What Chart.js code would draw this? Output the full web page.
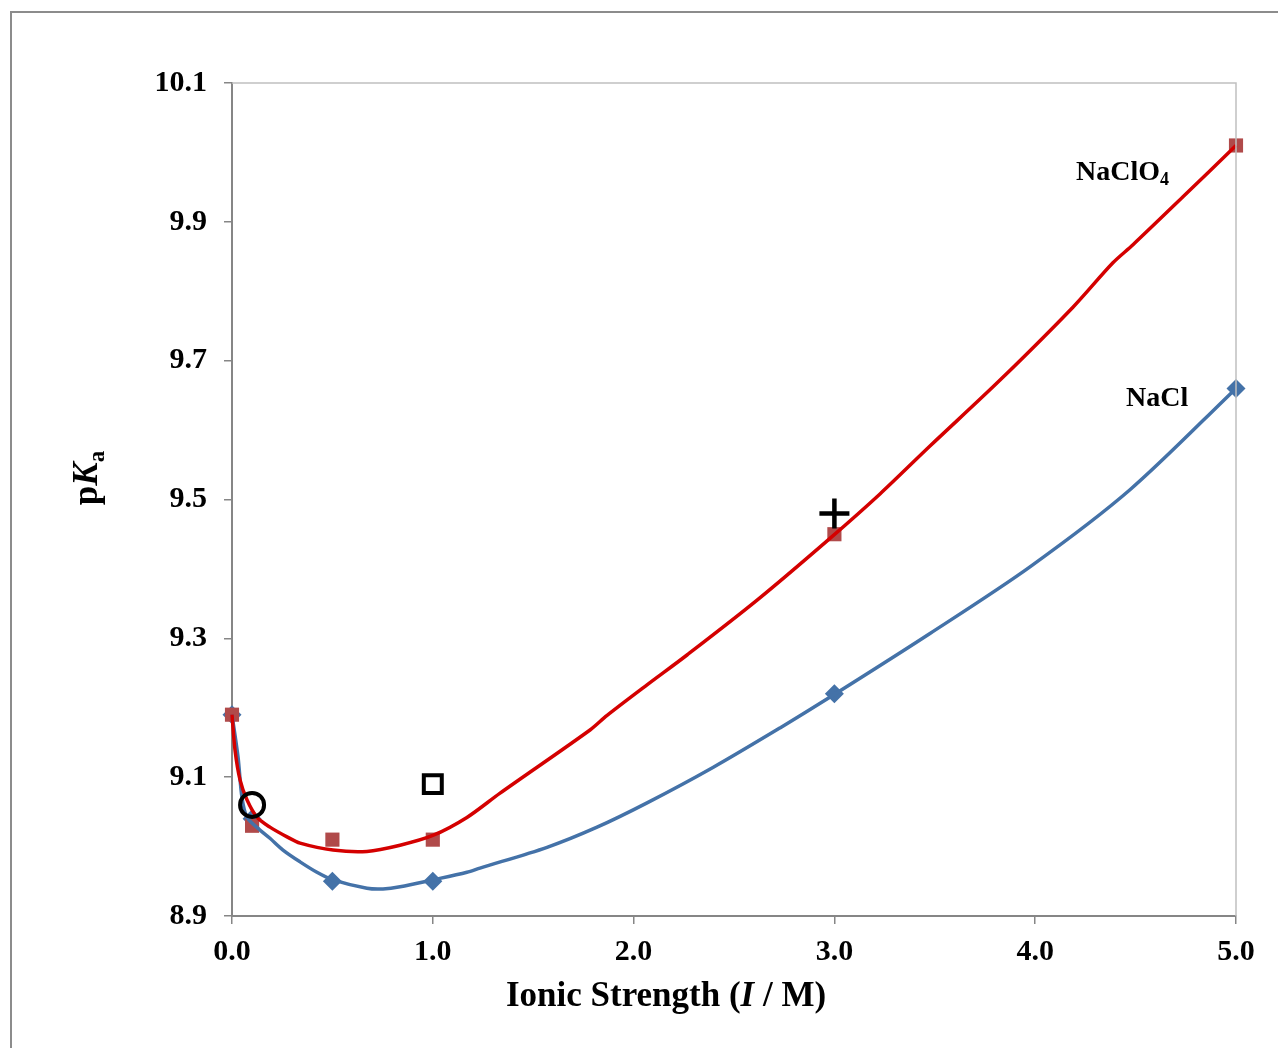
<!DOCTYPE html>
<html>
<head>
<meta charset="utf-8">
<script src="https://cdn.jsdelivr.net/npm/chart.js@4"></script>
<style>
  html, body { margin: 0; padding: 0; background: #fff; overflow: hidden; }
  #wrap { position: relative; width: 1278px; height: 1048px; }
</style>
</head>
<body>
<div id="wrap"><canvas id="pkaChart"></canvas></div>
<script>
// measured points
const ionicStrength = [0, 0.1, 0.5, 1.0, 3.0, 5.0];
const pkaNaCl = [9.19, 9.04, 8.95, 8.95, 9.22, 9.66];
const pkaNaClO4 = [9.19, 9.03, 9.01, 9.01, 9.45, 10.01];

// literature points (open circle, open square, plus)
const circleI = [0.1];
const circlePka = [9.06];
const squareI = [1.0];
const squarePka = [9.09];
const plusI = [3.0];
const plusPka = [9.48];

// fitted curves
const fitNaClO4I = [0, 0.015, 0.04, 0.075, 0.125, 0.189, 0.274, 0.339, 0.503, 0.672, 0.837, 1.0, 1.17, 1.335, 1.783, 1.868, 2.067, 2.266, 2.615, 2.978, 3.227, 3.476, 3.825, 4.188, 4.387, 4.487, 4.736, 5.0];
const fitNaClO4Pka = [9.19, 9.139, 9.096, 9.067, 9.042, 9.028, 9.014, 9.005, 8.995, 8.993, 9.002, 9.016, 9.042, 9.077, 9.168, 9.189, 9.233, 9.276, 9.355, 9.444, 9.508, 9.577, 9.672, 9.777, 9.841, 9.867, 9.936, 10.01];
const fitNaClI = [0, 0.03, 0.05, 0.075, 0.139, 0.189, 0.254, 0.339, 0.423, 0.503, 0.672, 0.752, 0.837, 1.0, 1.17, 1.235, 1.569, 1.818, 2.067, 2.395, 2.729, 2.993, 3.476, 3.974, 4.472, 5.0];
const fitNaClPka = [9.19, 9.129, 9.07, 9.042, 9.024, 9.012, 8.995, 8.978, 8.963, 8.952, 8.940, 8.939, 8.942, 8.952, 8.963, 8.969, 8.999, 9.028, 9.063, 9.114, 9.171, 9.218, 9.307, 9.403, 9.514, 9.66];

const xTicks = [0, 1, 2, 3, 4, 5];
const yTicks = [8.9, 9.1, 9.3, 9.5, 9.7, 9.9, 10.1];

const SERIF = '"Liberation Serif", "Times New Roman", serif';
const AXIS_GREY = '#868686';

function pts(xs, ys) {
    return xs.map((x, i) => ({ x: x, y: ys[i] }));
}

// draw a row of text pieces with different fonts / baseline shifts
function drawRuns(ctx, runs, x, y, align) {
    let total = 0;
    runs.forEach(r => { ctx.font = r.font; total += ctx.measureText(r.text).width; });
    let cx = align === 'center' ? x - total / 2 : x;
    ctx.textBaseline = 'alphabetic';
    ctx.textAlign = 'left';
    runs.forEach(r => {
        ctx.font = r.font;
        ctx.fillText(r.text, cx, y + (r.dy || 0));
        cx += ctx.measureText(r.text).width;
    });
}

const decorations = {
    id: 'decorations',
    beforeDraw(chart) {
        const ctx = chart.ctx;
        ctx.save();
        ctx.strokeStyle = '#8c8c8c';
        ctx.lineWidth = 2;
        ctx.strokeRect(11, 12, 1400, 1200);
        ctx.restore();
    },
    afterDraw(chart) {
        const ctx = chart.ctx;
        const a = chart.chartArea;
        const sx = chart.scales.x, sy = chart.scales.y;
        ctx.save();
        // top and right frame of the plot
        ctx.strokeStyle = '#c0c0c0';
        ctx.lineWidth = 1.5;
        ctx.beginPath();
        ctx.moveTo(a.left, a.top);
        ctx.lineTo(a.right, a.top);
        ctx.lineTo(a.right, a.bottom);
        ctx.stroke();

        ctx.fillStyle = '#000';
        // x axis title
        drawRuns(ctx, [
            { text: 'Ionic Strength (', font: 'bold 35px ' + SERIF },
            { text: 'I', font: 'italic bold 35px ' + SERIF },
            { text: ' / M)', font: 'bold 35px ' + SERIF }
        ], 666, 1006, 'center');

        // y axis title, rotated
        ctx.save();
        ctx.translate(97, 478);
        ctx.rotate(-Math.PI / 2);
        drawRuns(ctx, [
            { text: 'p', font: 'bold 35px ' + SERIF },
            { text: 'K', font: 'italic bold 35px ' + SERIF },
            { text: 'a', font: 'bold 23px ' + SERIF, dy: 7 }
        ], 0, 0, 'center');
        ctx.restore();

        // series labels
        drawRuns(ctx, [
            { text: 'NaClO', font: 'bold 28px ' + SERIF },
            { text: '4', font: 'bold 18px ' + SERIF, dy: 5 }
        ], sx.getPixelForValue(4.203), sy.getPixelForValue(9.960), 'left');
        drawRuns(ctx, [
            { text: 'NaCl', font: 'bold 28px ' + SERIF }
        ], sx.getPixelForValue(4.452), sy.getPixelForValue(9.634), 'left');
        ctx.restore();
    }
};

const tickFont = { family: SERIF, size: 30, weight: 'bold' };

new Chart(document.getElementById('pkaChart'), {
    type: 'scatter',
    data: {
        datasets: [
            {
                label: 'literature circle',
                data: pts(circleI, circlePka),
                pointStyle: 'circle', pointRadius: 12, borderWidth: 4,
                borderColor: '#000', backgroundColor: 'rgba(0,0,0,0)',
                order: 0, clip: false
            },
            {
                label: 'literature square',
                data: pts(squareI, squarePka),
                pointStyle: 'rect', pointRadius: 12.7, borderWidth: 4,
                borderColor: '#000', backgroundColor: 'rgba(0,0,0,0)',
                order: 0, clip: false
            },
            {
                label: 'literature plus',
                data: pts(plusI, plusPka),
                pointStyle: 'cross', pointRadius: 15, borderWidth: 4.5,
                borderColor: '#000', backgroundColor: '#000',
                order: 0, clip: false
            },
            {
                label: 'NaClO4 fit',
                data: pts(fitNaClO4I, fitNaClO4Pka),
                showLine: true, pointRadius: 0, borderWidth: 3.5,
                borderColor: '#d40000', tension: 0.3,
                order: 1, clip: false
            },
            {
                label: 'NaCl fit',
                data: pts(fitNaClI, fitNaClPka),
                showLine: true, pointRadius: 0, borderWidth: 3.5,
                borderColor: '#4472a8', tension: 0.3,
                order: 2, clip: false
            },
            {
                label: 'NaClO4',
                data: pts(ionicStrength, pkaNaClO4),
                pointStyle: 'rect', pointRadius: 10, borderWidth: 0,
                backgroundColor: '#b04a4a',
                order: 3, clip: false
            },
            {
                label: 'NaCl',
                data: pts(ionicStrength, pkaNaCl),
                pointStyle: 'rectRot', pointRadius: 9.5, borderWidth: 0,
                backgroundColor: '#4472a8',
                order: 4, clip: false
            }
        ]
    },
    options: {
        responsive: true,
        maintainAspectRatio: false,
        animation: false,
        layout: { padding: { top: 83, right: 42, left: 0, bottom: 0 } },
        plugins: {
            legend: { display: false },
            tooltip: { enabled: false }
        },
        scales: {
            x: {
                type: 'linear', min: 0, max: 5,
                afterBuildTicks: s => { s.ticks = xTicks.map(v => ({ value: v })); },
                afterFit: s => { s.height = 132; },
                grid: { drawOnChartArea: false, drawTicks: true, tickLength: 8, color: AXIS_GREY, lineWidth: 1.5 },
                border: { color: AXIS_GREY, width: 2 },
                ticks: { font: tickFont, color: '#000', padding: 10, maxRotation: 0, callback: v => v.toFixed(1) }
            },
            y: {
                type: 'linear', min: 8.9, max: 10.1,
                afterBuildTicks: s => { s.ticks = yTicks.map(v => ({ value: v })); },
                afterFit: s => { s.width = 232; },
                grid: { drawOnChartArea: false, drawTicks: true, tickLength: 8, color: AXIS_GREY, lineWidth: 1.5 },
                border: { color: AXIS_GREY, width: 2 },
                ticks: { font: tickFont, color: '#000', padding: 17, callback: v => v.toFixed(1) }
            }
        }
    },
    plugins: [decorations]
});
</script>
</body>
</html>
